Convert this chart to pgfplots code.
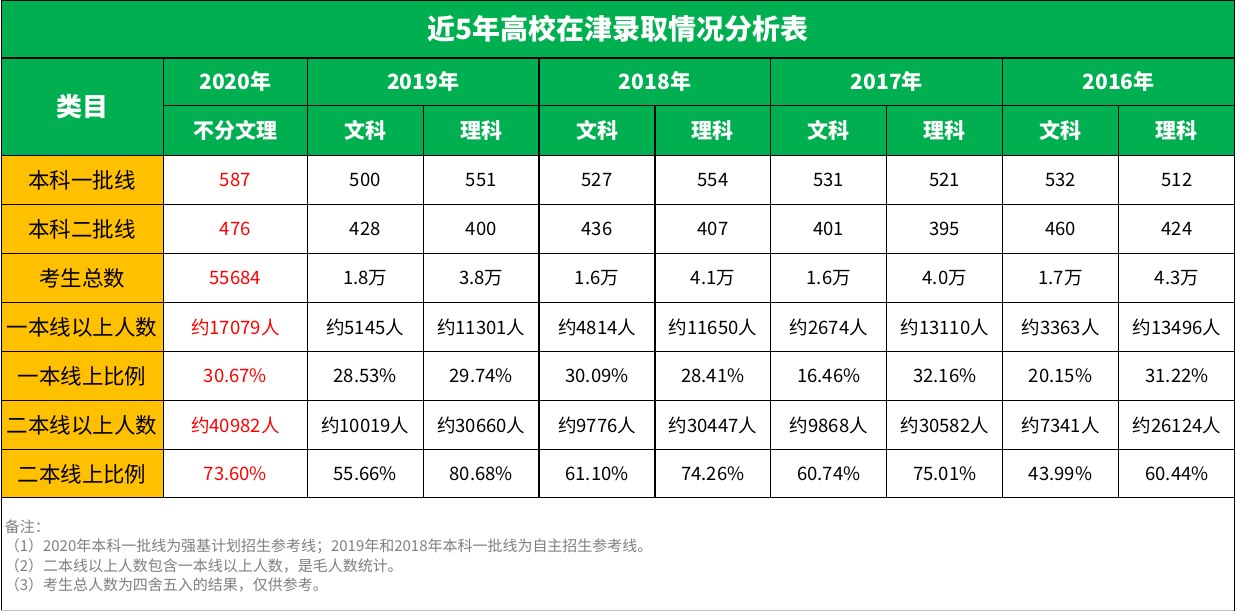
\documentclass[border=0pt]{standalone}
\usepackage{pgfplots}
\pgfplotsset{compat=1.18}
\usepackage{fontspec}
\setmainfont{Noto Sans CJK SC}
\definecolor{hdgreen}{HTML}{00B050}
\definecolor{lblorange}{HTML}{FFC000}
\definecolor{notegray}{HTML}{7F7F7F}
\newcommand\fs[1]{\fontsize{#1}{#1}\selectfont}
\begin{document}
\begin{tikzpicture}
\begin{axis}[x=1pt, y=1pt, xmin=0, xmax=1236, ymin=0, ymax=612, y dir=reverse,
  hide axis, clip=false, scale only axis,
  every node near coord/.append style={anchor=center}]
% backgrounds
\fill[white] (0,0) rectangle (1236,612);
\fill[hdgreen] (0,0) rectangle (1236,156);
\fill[lblorange] (0,156) rectangle (163,498);
% grid lines
\draw[black, line width=1.4pt] (0.7,0.7) rectangle (1235.3,498);
\draw[black, line width=1.2pt] (0.7,498) -- (0.7,612);
\draw[black!25, line width=1.2pt] (0,611.3) -- (1236,611.3);
\draw[black, line width=1.2pt] (1235.3,498) -- (1235.3,612);
\draw[black, line width=1.2pt] (0,58) -- (1236,58);
\draw[black, line width=1.2pt] (0,156) -- (1236,156);
\draw[black, line width=1.2pt] (0,205) -- (1236,205);
\draw[black, line width=1.2pt] (0,254) -- (1236,254);
\draw[black, line width=1.2pt] (0,303) -- (1236,303);
\draw[black, line width=1.2pt] (0,352) -- (1236,352);
\draw[black, line width=1.2pt] (0,401) -- (1236,401);
\draw[black, line width=1.2pt] (0,450) -- (1236,450);
\draw[black, line width=1.2pt] (163,106) -- (1236,106);
\draw[black, line width=1.2pt] (163,58) -- (163,498);
\draw[black, line width=1.2pt] (307,58) -- (307,498);
\draw[black, line width=1.2pt] (539,58) -- (539,498);
\draw[black, line width=1.2pt] (771,58) -- (771,498);
\draw[black, line width=1.2pt] (1003,58) -- (1003,498);
\draw[black, line width=1.2pt] (423,106) -- (423,498);
\draw[black, line width=1.2pt] (655,106) -- (655,498);
\draw[black, line width=1.2pt] (887,106) -- (887,498);
\draw[black, line width=1.2pt] (1119,106) -- (1119,498);
% title and headers
\node[text=white, font=\fs{28}\bfseries] at (618,29) {近5年高校在津录取情况分析表};
\node[text=white, font=\fs{26}\bfseries] at (81.5,107) {类目};
\node[text=white, font=\fs{21}\bfseries] at (235,82) {2020年};
\node[text=white, font=\fs{21}\bfseries] at (423,82) {2019年};
\node[text=white, font=\fs{21}\bfseries] at (655,82) {2018年};
\node[text=white, font=\fs{21}\bfseries] at (887,82) {2017年};
\node[text=white, font=\fs{21}\bfseries] at (1119,82) {2016年};
\node[text=white, font=\fs{21}\bfseries] at (235,131) {不分文理};
\node[text=white, font=\fs{21}\bfseries] at (365,131) {文科};
\node[text=white, font=\fs{21}\bfseries] at (481,131) {理科};
\node[text=white, font=\fs{21}\bfseries] at (597,131) {文科};
\node[text=white, font=\fs{21}\bfseries] at (713,131) {理科};
\node[text=white, font=\fs{21}\bfseries] at (829,131) {文科};
\node[text=white, font=\fs{21}\bfseries] at (945,131) {理科};
\node[text=white, font=\fs{21}\bfseries] at (1061,131) {文科};
\node[text=white, font=\fs{21}\bfseries] at (1177.5,131) {理科};
% row labels
\addplot[draw=none, mark=none, nodes near coords, point meta=explicit symbolic,
  nodes near coords style={font=\fs{21.5}, text=black}] table[meta=t] {
x y t
81.5 180.5 本科一批线
81.5 229.5 本科二批线
81.5 278.5 考生总数
81.5 327.5 一本线以上人数
81.5 376.5 一本线上比例
81.5 425.5 二本线以上人数
81.5 474.5 二本线上比例
};
% 2020 column (red)
\addplot[draw=none, mark=none, nodes near coords, point meta=explicit symbolic,
  nodes near coords style={font=\fs{18.5}, text=red}] table[meta=t] {
x y t
235 180.5 587
235 229.5 476
235 278.5 55684
235 327.5 约17079人
235 376.5 30.67\%
235 425.5 约40982人
235 474.5 73.60\%
};
% other columns
\addplot[draw=none, mark=none, nodes near coords, point meta=explicit symbolic,
  nodes near coords style={font=\fs{18.5}, text=black}] table[meta=t] {
x y t
365 180.5 500
481 180.5 551
597 180.5 527
713 180.5 554
829 180.5 531
945 180.5 521
1061 180.5 532
1177.5 180.5 512
365 229.5 428
481 229.5 400
597 229.5 436
713 229.5 407
829 229.5 401
945 229.5 395
1061 229.5 460
1177.5 229.5 424
365 278.5 1.8万
481 278.5 3.8万
597 278.5 1.6万
713 278.5 4.1万
829 278.5 1.6万
945 278.5 4.0万
1061 278.5 1.7万
1177.5 278.5 4.3万
365 327.5 约5145人
481 327.5 约11301人
597 327.5 约4814人
713 327.5 约11650人
829 327.5 约2674人
945 327.5 约13110人
1061 327.5 约3363人
1177.5 327.5 约13496人
365 376.5 28.53\%
481 376.5 29.74\%
597 376.5 30.09\%
713 376.5 28.41\%
829 376.5 16.46\%
945 376.5 32.16\%
1061 376.5 20.15\%
1177.5 376.5 31.22\%
365 425.5 约10019人
481 425.5 约30660人
597 425.5 约9776人
713 425.5 约30447人
829 425.5 约9868人
945 425.5 约30582人
1061 425.5 约7341人
1177.5 425.5 约26124人
365 474.5 55.66\%
481 474.5 80.68\%
597 474.5 61.10\%
713 474.5 74.26\%
829 474.5 60.74\%
945 474.5 75.01\%
1061 474.5 43.99\%
1177.5 474.5 60.44\%
};
% notes
\node[anchor=west, text=notegray, font=\fs{15}, inner sep=0pt] at (4,527) {备注：};
\node[anchor=west, text=notegray, font=\fs{15}, inner sep=0pt] at (4,547) {（1）2020年本科一批线为强基计划招生参考线；2019年和2018年本科一批线为自主招生参考线。};
\node[anchor=west, text=notegray, font=\fs{15}, inner sep=0pt] at (4,566) {（2）二本线以上人数包含一本线以上人数，是毛人数统计。};
\node[anchor=west, text=notegray, font=\fs{15}, inner sep=0pt] at (4,585) {（3）考生总人数为四舍五入的结果，仅供参考。};
\end{axis}
\end{tikzpicture}
\end{document}
